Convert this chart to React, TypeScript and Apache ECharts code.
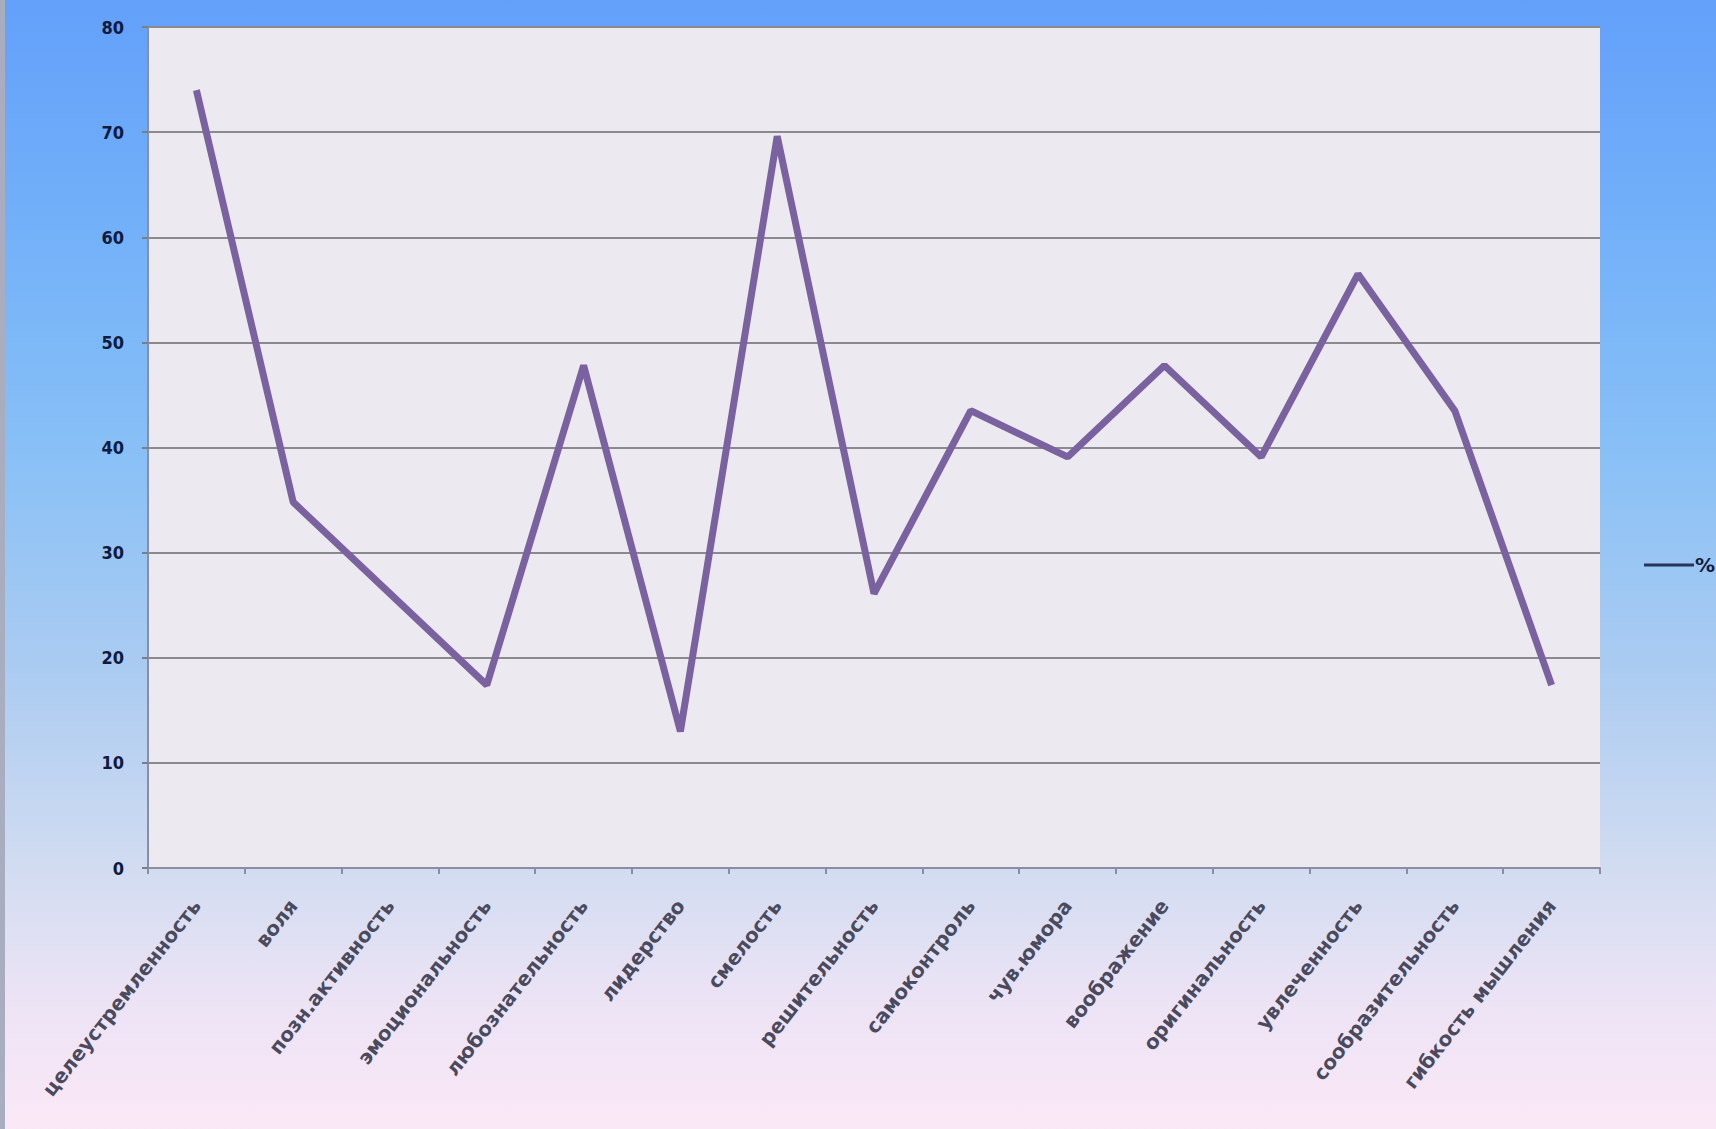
import React, { useEffect, useRef } from "react";
import * as echarts from "echarts";

const categories = [
  "целеустремленность",
  "воля",
  "позн.активность",
  "эмоциональность",
  "любознательность",
  "лидерство",
  "смелость",
  "решительность",
  "самоконтроль",
  "чув.юмора",
  "воображение",
  "оригинальность",
  "увлеченность",
  "сообразительность",
  "гибкость мышления",
];

const percentValues = [74, 34.8, 26.1, 17.4, 47.8, 13, 69.6, 26.1, 43.5, 39.1, 47.8, 39.1, 56.5, 43.5, 17.4];

const seriesName = "%";

const yMin = 0;
const yMax = 80;
const yInterval = 10;

export default function App() {
  const ref = useRef<HTMLDivElement>(null);

  useEffect(() => {
    document.body.style.margin = "0";
    if (!ref.current) return;
    const chart = echarts.init(ref.current, undefined, { renderer: "svg" });
    chart.setOption({
      animation: false,
      backgroundColor: "transparent",
      grid: {
        left: 143,
        right: 116,
        top: 27,
        bottom: 261,
        show: true,
        backgroundColor: "#ece9f0",
        borderWidth: 0,
      },
      legend: {
        show: true,
        left: 1634,
        top: 550,
        orient: "vertical",
        itemWidth: 50,
        itemHeight: 3,
        itemGap: 4,
        data: [
          {
            name: seriesName,
            icon: "rect",
            itemStyle: { color: "#26345e" },
          },
        ],
        textStyle: {
          color: "#101c3c",
          fontSize: 20,
          fontWeight: "bold",
          fontFamily: "DejaVu Sans",
          padding: [0, 0, 0, -4],
        },
      },
      xAxis: {
        type: "category",
        data: categories,
        boundaryGap: true,
        axisLine: { show: true, lineStyle: { color: "#8b8ea3", width: 2 } },
        axisTick: { show: true, alignWithLabel: false, length: 6, lineStyle: { color: "#8b8ea3", width: 2 } },
        axisLabel: {
          interval: 0,
          rotate: 52,
          margin: 34,
          color: "#4a4a5e",
          fontSize: 20,
          fontFamily: "DejaVu Sans",
          fontWeight: "bold",
        },
        splitLine: { show: false },
      },
      yAxis: {
        type: "value",
        min: yMin,
        max: yMax,
        interval: yInterval,
        axisLine: { show: true, lineStyle: { color: "#8b8ea3", width: 2 } },
        axisTick: { show: true, length: 6, lineStyle: { color: "#7d7d86", width: 2 } },
        axisLabel: {
          margin: 24,
          color: "#0e1a3e",
          fontSize: 18,
          fontWeight: "bold",
          fontFamily: "DejaVu Sans Condensed, DejaVu Sans",
        },
        splitLine: { show: true, lineStyle: { color: "#8a8a8e", width: 2 } },
      },
      series: [
        {
          name: seriesName,
          type: "line",
          data: percentValues,
          symbol: "none",
          lineStyle: { color: "#7a62a0", width: 7 },
          itemStyle: { color: "#7a62a0" },
        },
      ],
    });
    return () => chart.dispose();
  }, []);

  return (
    <div
      style={{
        width: 1716,
        height: 1129,
        boxSizing: "border-box",
        borderLeft: "5px solid #a9adc0",
        background:
          "linear-gradient(to bottom, #63a0fa 0%, #72b0f9 20%, #88c0f6 40%, #acccf1 60%, #d2dcf1 77%, #ebe3f5 88%, #fbe8f6 100%)",
      }}
    >
      <div ref={ref} style={{ width: 1711, height: 1129 }} />
    </div>
  );
}
